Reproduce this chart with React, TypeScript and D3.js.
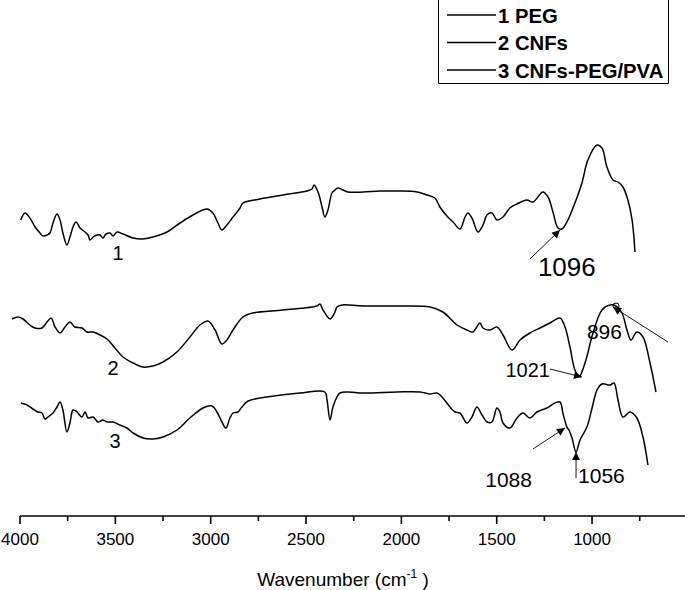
import React from 'react';
import * as d3 from 'd3';

// FTIR spectra, [wavenumber (cm-1), transmittance (a.u., stacked with offsets)]
const pegSpectrum: [number, number][] = [
  [3996, 295], [3974, 302], [3948, 297], [3921, 288], [3895, 282], [3879, 279], [3858, 280],
  [3843, 282], [3827, 292], [3806, 301], [3790, 295], [3775, 282], [3754, 270], [3738, 278],
  [3722, 288], [3706, 293], [3685, 287], [3659, 283], [3643, 280], [3633, 275], [3617, 278],
  [3596, 280], [3580, 280], [3565, 277], [3549, 281], [3528, 282], [3512, 279], [3491, 283],
  [3460, 281], [3407, 277], [3360, 276], [3303, 278], [3229, 283], [3161, 292], [3093, 300],
  [3019, 306], [2988, 302], [2962, 292], [2941, 285], [2915, 290], [2883, 298], [2846, 307],
  [2831, 312], [2741, 316], [2621, 320], [2495, 324], [2469, 326], [2458, 330], [2437, 323],
  [2416, 308], [2401, 298], [2385, 305], [2364, 322], [2348, 325], [2332, 327], [2306, 325],
  [2280, 323], [2201, 323], [2112, 324], [2023, 324], [1918, 323], [1866, 320], [1824, 317],
  [1798, 308], [1761, 299], [1729, 293], [1693, 286], [1666, 298], [1651, 302], [1630, 297],
  [1598, 283], [1572, 290], [1551, 300], [1525, 302], [1499, 295], [1467, 298], [1431, 307],
  [1394, 311], [1342, 315], [1310, 313], [1258, 323], [1231, 318], [1205, 303], [1179, 287],
  [1158, 286], [1132, 293], [1100, 307], [1053, 332], [1022, 355], [974, 370], [948, 367],
  [922, 348], [890, 335], [864, 333], [838, 328], [812, 315], [790, 295], [775, 263],
];

const cnfSpectrum: [number, number][] = [
  [4042, 196], [4010, 198], [3984, 196], [3948, 190], [3921, 187], [3885, 187], [3858, 193],
  [3837, 197], [3816, 188], [3790, 182], [3764, 188], [3738, 193], [3712, 188], [3675, 187],
  [3649, 183], [3617, 183], [3580, 180], [3544, 176], [3502, 167], [3460, 158], [3407, 152],
  [3355, 148], [3303, 149], [3250, 153], [3177, 163], [3109, 178], [3056, 190], [3014, 194],
  [2977, 185], [2941, 171], [2915, 175], [2883, 185], [2831, 198], [2778, 202], [2621, 205],
  [2443, 209], [2427, 211], [2411, 205], [2374, 196], [2348, 203], [2338, 208], [2311, 210],
  [2201, 209], [2023, 209], [1850, 208], [1782, 203], [1708, 190], [1656, 185], [1625, 183],
  [1588, 192], [1572, 187], [1535, 185], [1499, 188], [1467, 180], [1420, 165], [1378, 175],
  [1326, 182], [1273, 187], [1221, 192], [1168, 197], [1142, 188], [1116, 168], [1090, 145],
  [1069, 138], [1037, 152], [995, 182], [948, 205], [906, 210], [875, 209], [843, 202],
  [817, 185], [796, 175], [765, 183], [733, 178], [696, 152], [665, 123],
];

const compositeSpectrum: [number, number][] = [
  [3995, 112], [3963, 110], [3932, 106], [3906, 103], [3885, 102], [3869, 96], [3853, 98],
  [3827, 102], [3806, 108], [3790, 113], [3775, 105], [3754, 83], [3738, 92], [3722, 105],
  [3701, 103], [3675, 98], [3659, 103], [3643, 97], [3617, 98], [3591, 93], [3565, 95],
  [3544, 93], [3512, 93], [3476, 90], [3439, 87], [3407, 82], [3355, 77], [3303, 76],
  [3250, 78], [3177, 85], [3109, 97], [3040, 107], [2993, 109], [2967, 103], [2941, 93],
  [2920, 87], [2899, 97], [2883, 102], [2857, 103], [2836, 108], [2804, 114], [2705, 118],
  [2532, 122], [2401, 123], [2390, 115], [2374, 95], [2359, 108], [2338, 118], [2322, 122],
  [2280, 123], [2201, 122], [2023, 123], [1902, 123], [1850, 121], [1813, 122], [1782, 117],
  [1745, 108], [1719, 103], [1693, 102], [1656, 92], [1630, 98], [1604, 108], [1577, 100],
  [1551, 93], [1525, 93], [1499, 107], [1483, 103], [1467, 92], [1431, 87], [1394, 97],
  [1362, 102], [1326, 97], [1289, 103], [1237, 107], [1195, 112], [1168, 113], [1153, 102],
  [1132, 88], [1121, 85], [1105, 77], [1084, 63], [1063, 75], [1027, 88], [1000, 107],
  [974, 125], [948, 131], [906, 130], [885, 132], [864, 115], [838, 98], [801, 103],
  [765, 97], [733, 78], [707, 50],
];

const legendLabels = ['1 PEG', '2 CNFs', '3 CNFs-PEG/PVA'];
const curveLabels = ['1', '2', '3'];
// where each curve number sits [wavenumber, transmittance]
const curveLabelPos: [number, number][] = [[3486, 255], [3512, 140], [3502, 67]];

const majorTicks = [4000, 3500, 3000, 2500, 2000, 1500, 1000];
const minorTicks = [3750, 3250, 2750, 2250, 1750, 1250, 750];

// peak annotations: text, arrow tip and arrow tail in data units
const peakLabels = ['1096', '1021', '896', '1088', '1056'];
const peakTips: [number, number][] = [[1168, 285], [1053, 138], [890, 208], [1142, 87], [1084, 63]];
const peakTails: [number, number][] = [[1326, 256], [1221, 146], [602, 173], [1310, 66], [1084, 37]];

const W = 685;
const H = 590;
const FONT = "'Liberation Sans', Arial, Helvetica, sans-serif";

export default function App() {
  const x = d3.scaleLinear().domain([4000, 500]).range([20, 687.4]);
  const y = d3.scaleLinear().domain([0, 515]).range([515, 0]);
  const axisY = 516;

  const line = d3
    .line<[number, number]>()
    .x((d) => x(d[0]))
    .y((d) => y(d[1]))
    .curve(d3.curveCatmullRom.alpha(0.5));

  const spectra = [pegSpectrum, cnfSpectrum, compositeSpectrum];

  // label placement relative to the arrow tail, and font size
  const textPlace = [
    { dx: 8, dy: 17, anchor: 'start', size: 26 },
    { dx: 0, dy: 8, anchor: 'end', size: 20 },
    { dx: -46, dy: -3, anchor: 'end', size: 21 },
    { dx: -1, dy: 38, anchor: 'end', size: 21 },
    { dx: 2, dy: 5, anchor: 'start', size: 21 },
  ];

  return (
    <svg
      width={W}
      height={H}
      style={{ position: 'absolute', left: 0, top: 0, background: '#fff' }}
      fontFamily={FONT}
    >
      <defs>
        <marker id="head" viewBox="0 0 10 10" refX="10" refY="5" markerWidth="11" markerHeight="8"
          markerUnits="userSpaceOnUse" orient="auto">
          <path d="M0,0 L10,5 L0,10 z" fill="#000" />
        </marker>
      </defs>

      {spectra.map((s, i) => (
        <path key={i} d={line(s) ?? ''} fill="none" stroke="#000" strokeWidth={1.5} strokeLinejoin="round" />
      ))}

      {curveLabels.map((t, i) => (
        <text key={t} x={x(curveLabelPos[i][0])} y={y(curveLabelPos[i][1])} fontSize={20} textAnchor="middle">
          {t}
        </text>
      ))}

      {peakLabels.map((t, i) => {
        const [tx, ty] = [x(peakTails[i][0]), y(peakTails[i][1])];
        const p = textPlace[i];
        return (
          <g key={t}>
            <line x1={tx} y1={ty} x2={x(peakTips[i][0])} y2={y(peakTips[i][1])}
              stroke="#000" strokeWidth={0.9} markerEnd="url(#head)" />
            {t === '896' && (
              <circle cx={x(peakTips[i][0]) + 3} cy={y(peakTips[i][1]) - 1} r={3} fill="none" stroke="#000" strokeWidth={1} />
            )}
            <text x={tx + p.dx} y={ty + p.dy} fontSize={p.size} textAnchor={p.anchor as any}>{t}</text>
          </g>
        );
      })}

      {/* x axis */}
      <line x1={x(4000)} x2={W} y1={axisY} y2={axisY} stroke="#000" strokeWidth={1.6} />
      {majorTicks.map((t) => (
        <g key={t} transform={`translate(${x(t)},${axisY})`}>
          <line y2={8} stroke="#000" strokeWidth={1.6} />
          <text y={29} fontSize={17} textAnchor="middle">{t}</text>
        </g>
      ))}
      {minorTicks.map((t) => (
        <line key={t} x1={x(t)} x2={x(t)} y1={axisY} y2={axisY + 5} stroke="#000" strokeWidth={1.6} />
      ))}
      <text x={343} y={586} fontSize={19} textAnchor="middle">
        Wavenumber (cm
        <tspan fontSize={12} dy={-8}>-1</tspan>
        <tspan dy={8}> )</tspan>
      </text>

      {/* legend */}
      <path d="M438.5,0 V83.5 H668.5 V0" fill="none" stroke="#000" strokeWidth={1} />
      {legendLabels.map((t, i) => (
        <g key={t} transform={`translate(0,${15 + i * 27.5})`}>
          <line x1={447} x2={496} stroke="#000" strokeWidth={1.3} />
          <text x={498} y={7.5} fontSize={20.3} fontWeight="bold">{t}</text>
        </g>
      ))}
    </svg>
  );
}
